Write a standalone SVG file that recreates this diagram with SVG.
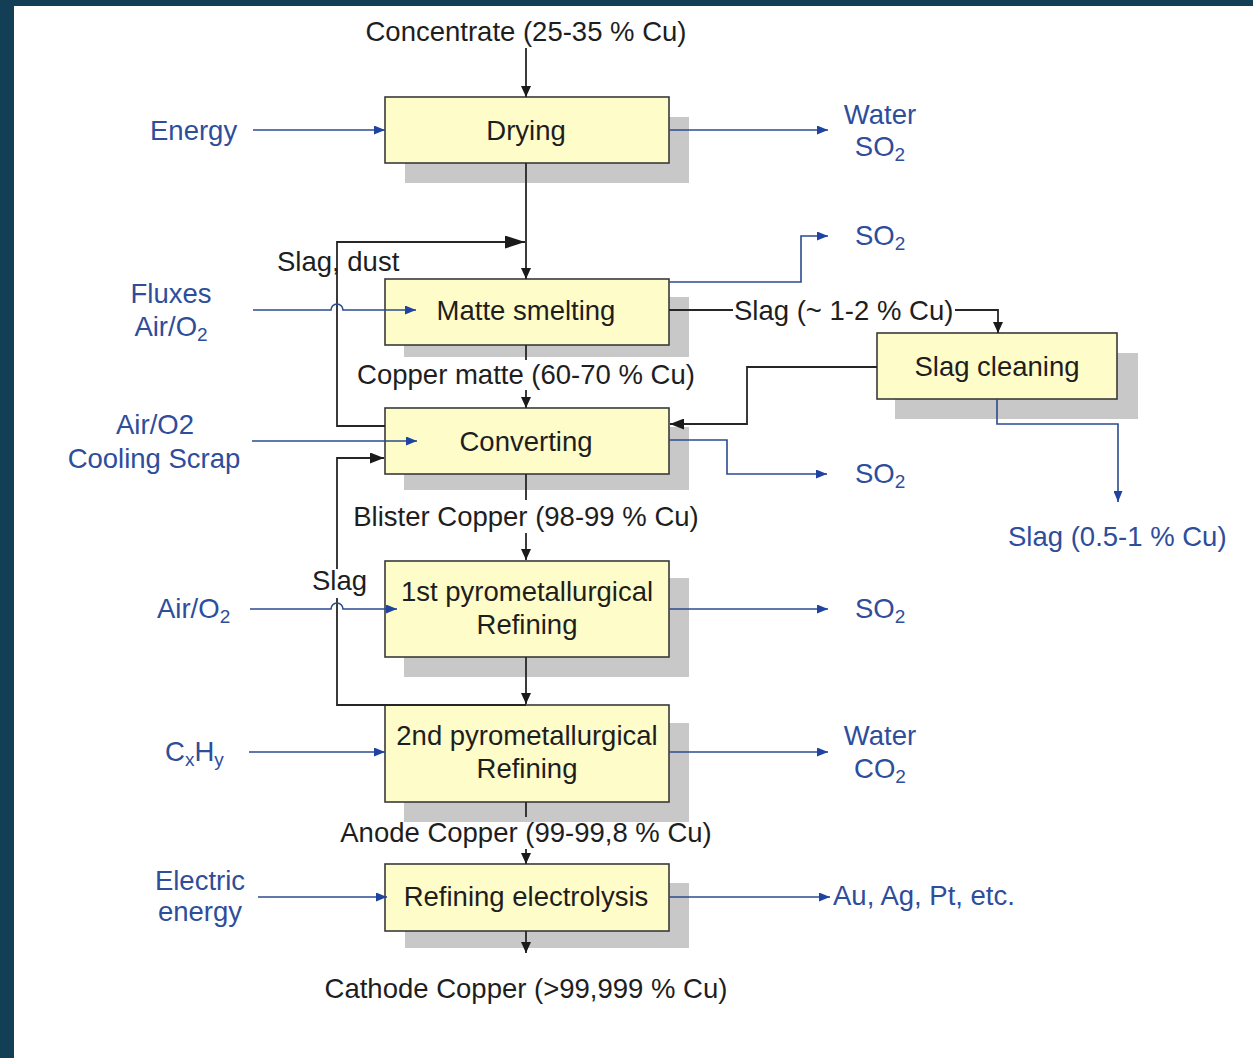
<svg xmlns="http://www.w3.org/2000/svg" width="1253" height="1058" viewBox="0 0 1253 1058">
<style>
  text { font-family: "Liberation Sans", Arial, sans-serif; font-size: 27.5px; }
  .k { fill: #1e1e1e; }
  .b { fill: #2e4d9b; }
  .m { text-anchor: middle; }
  .sub { font-size: 19px; }
  .box { fill: #fefcc8; stroke: #3a3a3a; stroke-width: 1.6; }
  .sh { fill: #c8c8c8; }
  .lk { fill: none; stroke: #262626; stroke-width: 1.8; }
  .lb { fill: none; stroke: #2b4b8e; stroke-width: 1.6; }
</style>
<defs>
  <marker id="ab" markerUnits="userSpaceOnUse" markerWidth="11" markerHeight="9" refX="11" refY="4.5" orient="auto"><path d="M0,0 L11,4.5 L0,9 z" fill="#1f43a0"/></marker>
  <marker id="ak" markerUnits="userSpaceOnUse" markerWidth="11" markerHeight="10" refX="11" refY="5" orient="auto"><path d="M0,0 L11,5 L0,10 z" fill="#1a1a1a"/></marker>
  <marker id="akM" markerUnits="userSpaceOnUse" markerWidth="14" markerHeight="11" refX="14" refY="5.5" orient="auto"><path d="M0,0 L14,5.5 L0,11 z" fill="#1a1a1a"/></marker>
  <marker id="akL" markerUnits="userSpaceOnUse" markerWidth="20" markerHeight="13" refX="20" refY="6.5" orient="auto"><path d="M0,0 L20,6.5 L0,13 z" fill="#1a1a1a"/></marker>
</defs>
<rect x="0" y="0" width="1253" height="1058" fill="#133f56"/>
<rect x="14" y="6" width="1239" height="1052" fill="#ffffff"/>

<g id="drying"><rect class="sh" x="405" y="117" width="284" height="66"/><rect class="box" x="385" y="97" width="284" height="66"/><text class="k m" x="526" y="140">Drying</text></g>
<g id="matte-smelting"><rect class="sh" x="404" y="297" width="285" height="60"/><rect class="box" x="385" y="279" width="284" height="66"/><text class="k m" x="526" y="320">Matte smelting</text></g>
<g id="converting"><rect class="sh" x="404" y="427" width="285" height="63"/><rect class="box" x="385" y="408" width="284" height="66"/><text class="k m" x="526" y="451">Converting</text></g>
<g id="slag-cleaning"><rect class="sh" x="895" y="353" width="243" height="66"/><rect class="box" x="877" y="333" width="240" height="66"/><text class="k m" x="997" y="376">Slag cleaning</text></g>
<g id="refining1"><rect class="sh" x="404" y="578" width="285" height="99"/><rect class="box" x="385" y="561" width="284" height="96"/><text class="k m" x="527" y="601">1st pyrometallurgical</text><text class="k m" x="527" y="634">Refining</text></g>
<g id="refining2"><rect class="sh" x="404" y="723" width="285" height="99"/><rect class="box" x="385" y="705" width="284" height="97"/><text class="k m" x="527" y="745">2nd pyrometallurgical</text><text class="k m" x="527" y="778">Refining</text></g>
<g id="electrolysis"><rect class="sh" x="405" y="883" width="284" height="65"/><rect class="box" x="385" y="864" width="284" height="67"/><text class="k m" x="526" y="906">Refining electrolysis</text></g>

<g id="connectors">
  <path class="lk" d="M526,48 V97" marker-end="url(#ak)"/>
  <path class="lb" d="M253,130 H385" marker-end="url(#ab)"/>
  <path class="lb" d="M669,130 H828" marker-end="url(#ab)"/>
  <path class="lk" d="M526,163 V279" marker-end="url(#ak)"/>
  <path class="lk" d="M385,426 H337 V242 H525" marker-end="url(#akL)"/>
  <path class="lb" d="M253,310 H331 A6,6 0 0 1 343,310 H416" marker-end="url(#ab)"/>
  <path class="lb" d="M669,282 H801 V236 H828" marker-end="url(#ab)"/>
  <path class="lk" d="M669,310 H733"/>
  <path class="lk" d="M955,310 H998 V333" marker-end="url(#ak)"/>
  <path class="lk" d="M526,345 V360"/>
  <path class="lk" d="M526,390 V408" marker-end="url(#ak)"/>
  <path class="lk" d="M877,367 H747 V424 H670" marker-end="url(#akM)"/>
  <path class="lb" d="M669,440 H727 V474 H827" marker-end="url(#ab)"/>
  <path class="lb" d="M997,399 V424 H1118 V502" marker-end="url(#ab)"/>
  <path class="lb" d="M252,441 H417" marker-end="url(#ab)"/>
  <path class="lk" d="M526,705 H337 V598"/>
  <path class="lk" d="M337,569 V458 H384" marker-end="url(#akM)"/>
  <path class="lk" d="M526,474 V500"/>
  <path class="lk" d="M526,533 V560" marker-end="url(#ak)"/>
  <path class="lb" d="M250,609 H331 A6,6 0 0 1 343,609 H397" marker-end="url(#ab)"/>
  <path class="lb" d="M669,609 H828" marker-end="url(#ab)"/>
  <path class="lk" d="M526,657 V704" marker-end="url(#ak)"/>
  <path class="lb" d="M249,752 H385" marker-end="url(#ab)"/>
  <path class="lb" d="M669,752 H828" marker-end="url(#ab)"/>
  <path class="lk" d="M526,802 V817"/>
  <path class="lk" d="M526,849 V864" marker-end="url(#ak)"/>
  <path class="lb" d="M258,897 H387" marker-end="url(#ab)"/>
  <path class="lb" d="M669,897 H830" marker-end="url(#ab)"/>
  <path class="lk" d="M526,931 V953" marker-end="url(#ak)"/>
</g>

<g id="labels">
  <text class="k m" x="526" y="41">Concentrate (25-35 % Cu)</text>
  <text class="b" x="150" y="140">Energy</text>
  <text class="b m" x="880" y="124">Water</text>
  <text class="b m" x="880" y="156">SO<tspan class="sub" dy="5">2</tspan></text>
  <text class="b" x="855" y="245">SO<tspan class="sub" dy="5">2</tspan></text>
  <text class="k" x="277" y="271">Slag, dust</text>
  <text class="b m" x="171" y="303">Fluxes</text>
  <text class="b m" x="171" y="336">Air/O<tspan class="sub" dy="5">2</tspan></text>
  <text class="k" x="734" y="320">Slag (~ 1-2 % Cu)</text>
  <text class="k m" x="526" y="384">Copper matte (60-70 % Cu)</text>
  <text class="b m" x="155" y="434">Air/O2</text>
  <text class="b m" x="154" y="468">Cooling Scrap</text>
  <text class="b" x="855" y="483">SO<tspan class="sub" dy="5">2</tspan></text>
  <text class="k m" x="526" y="526">Blister Copper (98-99 % Cu)</text>
  <text class="b" x="1008" y="546">Slag (0.5-1 % Cu)</text>
  <text class="k" x="312" y="590">Slag</text>
  <text class="b" x="157" y="618">Air/O<tspan class="sub" dy="5">2</tspan></text>
  <text class="b" x="855" y="618">SO<tspan class="sub" dy="5">2</tspan></text>
  <text class="b" x="165" y="761">C<tspan class="sub" dy="5">x</tspan><tspan dy="-5">H</tspan><tspan class="sub" dy="5">y</tspan></text>
  <text class="b m" x="880" y="745">Water</text>
  <text class="b m" x="880" y="778">CO<tspan class="sub" dy="5">2</tspan></text>
  <text class="k m" x="526" y="842">Anode Copper (99-99,8 % Cu)</text>
  <text class="b m" x="200" y="890">Electric</text>
  <text class="b m" x="200" y="921">energy</text>
  <text class="b" x="833" y="905">Au, Ag, Pt, etc.</text>
  <text class="k m" x="526" y="998">Cathode Copper (&gt;99,999 % Cu)</text>
</g>
</svg>
